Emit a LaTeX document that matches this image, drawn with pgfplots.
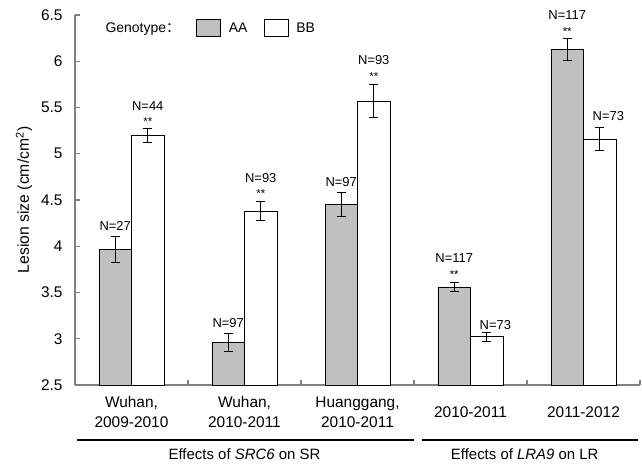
\documentclass[border=0pt]{standalone}
\usepackage{pgfplots}
\pgfplotsset{compat=1.18}
\usepackage{fontspec}
\setmainfont{Liberation Sans}
\newfontfamily\cjk{Noto Sans CJK SC}
\definecolor{barg}{HTML}{C0C0C0}
\definecolor{axg}{HTML}{808080}
\begin{document}
\begin{tikzpicture}
\begin{axis}[name=ax,
  scale only axis, width=565bp, height=370bp,
  xmin=-0.5, xmax=4.5, ymin=2.5, ymax=6.5,
  axis x line*=bottom, axis y line*=left,
  axis line style={axg, line width=1.4pt, -},
  clip=false,
  xtick={0,1,2,3,4},
  xticklabels={{Wuhan,\\2009-2010},{Wuhan,\\2010-2011},{Huanggang,\\2010-2011},{2010-2011},{2011-2012}},
  major x tick style={draw=none},
  minor xtick={0.5,1.5,2.5,3.5,4.5},
  minor x tick style={axg, line width=1.2pt},
  minor tick length=5bp,
  xticklabel style={font=\fontsize{15.5}{20}\selectfont, align=center, anchor=center, yshift=-27bp},
  ytick={2.5,3,3.5,4,4.5,5,5.5,6,6.5},
  yticklabel style={font=\fontsize{15.5}{16}\selectfont, xshift=-9bp},
  /pgf/number format/assume math mode=true,
  major y tick style={axg, line width=1.2pt},
  major tick length=5bp,
  tick align=inside,
  legend style={draw=none, fill=none, at={(rel axis cs:0.045,0.995)}, anchor=north west,
    font=\fontsize{14}{16}\selectfont, legend columns=3,
    /tikz/every even column/.append style={column sep=14bp}},
  legend cell align=left,
]
\addlegendimage{empty legend}
\addlegendentry{Genotype\cjk{：}\hspace{-19bp}}
\addplot[ybar, bar width=0.288, bar shift=0pt, fill=barg, draw=black, line width=0.9pt,
  legend image code/.code={\draw[fill=barg, draw=black, line width=0.9pt] (0bp,-8.5bp) rectangle (24bp,8.5bp);},
  error bars/.cd, y dir=both, y explicit, error bar style={black, line width=0.9pt},
  error mark options={black, mark size=4.5bp, line width=0.9pt, rotate=90}]
  coordinates {(-0.144,3.97) +- (0,0.14) (0.856,2.96) +- (0,0.10) (1.856,4.45) +- (0,0.13) (2.856,3.56) +- (0,0.05) (3.856,6.13) +- (0,0.12)};
\addlegendentry{\hspace{6bp}AA}
\addplot[ybar, bar width=0.288, bar shift=0pt, fill=white, draw=black, line width=0.9pt,
  legend image code/.code={\draw[fill=white, draw=black, line width=0.9pt] (0bp,-8.5bp) rectangle (24bp,8.5bp);},
  error bars/.cd, y dir=both, y explicit, error bar style={black, line width=0.9pt},
  error mark options={black, mark size=4.5bp, line width=0.9pt, rotate=90}]
  coordinates {(0.144,5.20) +- (0,0.075) (1.144,4.38) +- (0,0.10) (2.144,5.57) +- (0,0.18) (3.144,3.02) +- (0,0.05) (4.144,5.16) +- (0,0.12)};
\addlegendentry{\hspace{6bp}BB}
% annotations
\tikzset{nl/.style={font=\fontsize{13}{14}\selectfont, anchor=south, inner sep=0pt},
         st/.style={font=\fontsize{11.5}{11}\selectfont, anchor=south, inner sep=0pt}}
\node[nl] at (axis cs:-0.144,4.17) {N=27};
\node[st] at (axis cs:0.144,5.30) {**};
\node[nl] at (axis cs:0.144,5.46) {N=44};
\node[nl] at (axis cs:0.856,3.12) {N=97};
\node[st] at (axis cs:1.144,4.52) {**};
\node[nl] at (axis cs:1.144,4.69) {N=93};
\node[nl] at (axis cs:1.856,4.64) {N=97};
\node[st] at (axis cs:2.144,5.79) {**};
\node[nl] at (axis cs:2.144,5.96) {N=93};
\node[st] at (axis cs:2.856,3.65) {**};
\node[nl] at (axis cs:2.856,3.82) {N=117};
\node[nl] at (axis cs:3.22,3.10) {N=73};
\node[st] at (axis cs:3.856,6.28) {**};
\node[nl] at (axis cs:3.856,6.45) {N=117};
\node[nl] at (axis cs:4.22,5.36) {N=73};
% y label
\node[rotate=90, font=\fontsize{15.8}{16}\selectfont] at ([xshift=-51bp]rel axis cs:0,0.5) {Lesion size (cm/cm\textsuperscript{2})};
% group lines
\draw[black, line width=1.2pt] (axis cs:-0.48,1.905) -- (axis cs:2.5,1.905);
\draw[black, line width=1.2pt] (axis cs:2.57,1.905) -- (axis cs:4.48,1.905);
\node[font=\fontsize{15}{16}\selectfont] at (axis cs:1.0,1.75) {Effects of \textit{SRC6} on SR};
\node[font=\fontsize{15}{16}\selectfont] at (axis cs:3.48,1.75) {Effects of \textit{LRA9} on LR};
\end{axis}
\pgfresetboundingbox
\path ([shift={(-75bp,-80bp)}]ax.south west) rectangle ([shift={(2bp,15bp)}]ax.north east);
\end{tikzpicture}
\end{document}
